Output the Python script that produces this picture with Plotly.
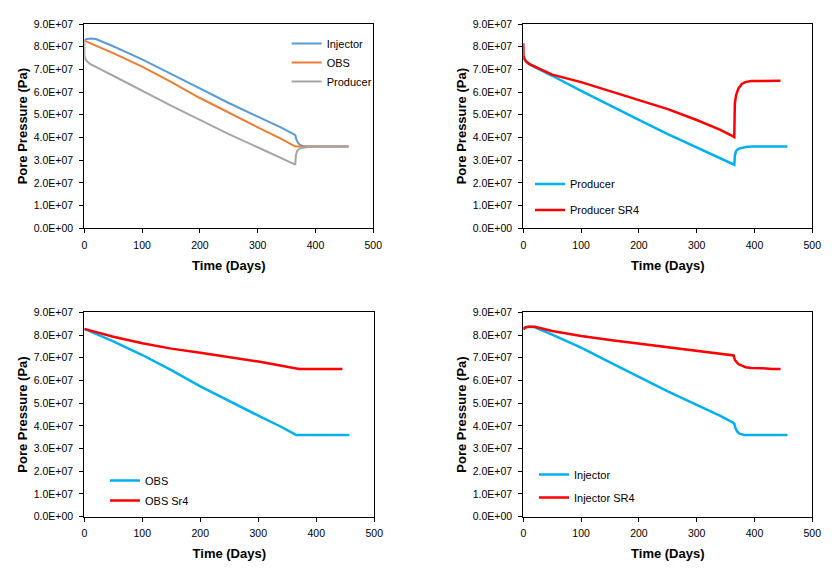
import plotly.graph_objects as go

# ---------------- data (days, Pa) ----------------
injector_days = [0, 5, 12, 20, 50, 100, 150, 200, 250, 300, 340, 362, 365, 367, 370, 374, 378, 382, 390, 457]
injector_p = [8.30e7, 8.34e7, 8.36e7, 8.34e7, 8.02e7, 7.44e7, 6.80e7, 6.15e7, 5.52e7, 4.92e7, 4.45e7, 4.15e7,
              4.10e7, 3.90e7, 3.75e7, 3.66e7, 3.62e7, 3.60e7, 3.60e7, 3.60e7]

obs_days = [0, 50, 100, 150, 200, 250, 300, 340, 360, 365, 370, 457]
obs_p = [8.27e7, 7.72e7, 7.12e7, 6.45e7, 5.74e7, 5.08e7, 4.45e7, 3.95e7, 3.66e7, 3.60e7, 3.60e7, 3.60e7]

producer_days = [0, 0.3, 2, 5, 10, 20, 30, 50, 100, 150, 200, 250, 300, 340, 364, 365, 366, 368, 372, 378, 385,
                 395, 457]
producer_p = [8.27e7, 7.58e7, 7.45e7, 7.35e7, 7.24e7, 7.10e7, 6.98e7, 6.72e7, 6.05e7, 5.40e7, 4.78e7, 4.15e7,
              3.57e7, 3.12e7, 2.82e7, 2.80e7, 3.20e7, 3.40e7, 3.50e7, 3.55e7, 3.58e7, 3.60e7, 3.60e7]

producer_sr4_days = [0, 0.3, 2, 5, 10, 20, 30, 50, 100, 150, 200, 250, 300, 340, 363, 365, 365.5, 366, 368, 372,
                     378, 385, 395, 410, 445]
producer_sr4_p = [8.15e7, 7.60e7, 7.45e7, 7.35e7, 7.24e7, 7.12e7, 7.02e7, 6.77e7, 6.44e7, 6.05e7, 5.65e7, 5.25e7,
                  4.77e7, 4.35e7, 4.05e7, 4.02e7, 4.80e7, 5.50e7, 5.85e7, 6.15e7, 6.36e7, 6.45e7, 6.49e7, 6.50e7,
                  6.50e7]

obs_sr4_days = [0, 25, 50, 100, 150, 200, 250, 300, 340, 365, 370, 445]
obs_sr4_p = [8.27e7, 8.08e7, 7.92e7, 7.64e7, 7.40e7, 7.22e7, 7.03e7, 6.83e7, 6.65e7, 6.52e7, 6.50e7, 6.50e7]

injector_sr4_days = [0, 3, 8, 20, 50, 100, 150, 200, 250, 300, 340, 364, 366, 368, 372, 378, 385, 395, 410, 420,
                     430, 445]
injector_sr4_p = [8.25e7, 8.33e7, 8.36e7, 8.36e7, 8.18e7, 7.96e7, 7.78e7, 7.62e7, 7.47e7, 7.33e7, 7.20e7, 7.10e7,
                  6.90e7, 6.82e7, 6.72e7, 6.65e7, 6.58e7, 6.55e7, 6.55e7, 6.53e7, 6.50e7, 6.50e7]

y_tickvals = [0, 1e7, 2e7, 3e7, 4e7, 5e7, 6e7, 7e7, 8e7, 9e7]
y_ticktext = ["0.0E+00", "1.0E+07", "2.0E+07", "3.0E+07", "4.0E+07", "5.0E+07", "6.0E+07", "7.0E+07",
              "8.0E+07", "9.0E+07"]
x_tickvals = [0, 100, 200, 300, 400, 500]

x_title = "Time (Days)"
y_title = "Pore Pressure (Pa)"

# ---------------- styling ----------------
FONT = "Liberation Sans, Arial, sans-serif"
C_INJ = "#5B9BD5"
C_OBS = "#ED7D31"
C_PROD = "#A5A5A5"
C_BLUE = "#00B0F0"
C_RED = "#FF0000"

W, H = 837, 574
# plot areas in pixels: (left, right, top, bottom)
boxes = [
    (84.3, 373.3, 24.0, 228.3),
    (523.3, 812.3, 24.0, 228.3),
    (84.3, 374.3, 312.3, 516.7),
    (523.3, 812.3, 312.3, 516.7),
]

fig = go.Figure()


def add(x, y, name, color, width, idx, legend, group):
    sfx = "" if idx == 1 else str(idx)
    fig.add_trace(go.Scatter(
        x=x, y=y, name=name, mode="lines",
        line=dict(color=color, width=width),
        xaxis="x" + sfx, yaxis="y" + sfx,
        legend=legend, legendgroup=group,
    ))


add(injector_days, injector_p, "Injector", C_INJ, 2, 1, "legend", "a1")
add(obs_days, obs_p, "OBS", C_OBS, 2, 1, "legend", "a2")
add(producer_days, producer_p, "Producer", C_PROD, 2, 1, "legend", "a3")

add(producer_days[1:], producer_p[1:], "Producer", C_BLUE, 2.5, 2, "legend2", "b1")
add(producer_sr4_days, producer_sr4_p, "Producer SR4", C_RED, 2.5, 2, "legend2", "b2")

add(obs_days, obs_p, "OBS", C_BLUE, 2.5, 3, "legend3", "c1")
add(obs_sr4_days, obs_sr4_p, "OBS Sr4", C_RED, 2.5, 3, "legend3", "c2")

add(injector_days, injector_p, "Injector", C_BLUE, 2.5, 4, "legend4", "d1")
add(injector_sr4_days, injector_sr4_p, "Injector SR4", C_RED, 2.5, 4, "legend4", "d2")

layout = dict(
    width=W, height=H,
    margin=dict(l=0, r=0, t=0, b=0, autoexpand=False),
    paper_bgcolor="white", plot_bgcolor="white",
    font=dict(family=FONT, size=11, color="black"),
)

for i, (l, r, t, b) in enumerate(boxes, start=1):
    sfx = "" if i == 1 else str(i)
    layout["xaxis" + sfx] = dict(
        domain=[l / W, r / W], anchor="y" + sfx, automargin=False,
        range=[0, 500], tickvals=x_tickvals, tickfont=dict(size=10.5),
        showline=True, mirror=True, linecolor="black", linewidth=1,
        ticks="outside", ticklen=4, tickcolor="black", ticklabelstandoff=3,
        showgrid=False, zeroline=False,
        title=dict(text=x_title, font=dict(size=13, weight="bold"), standoff=10),
    )
    layout["yaxis" + sfx] = dict(
        domain=[1 - b / H, 1 - t / H], anchor="x" + sfx, automargin=False,
        range=[0, 9e7], tickvals=y_tickvals, ticktext=y_ticktext, tickfont=dict(size=10.5),
        showline=True, mirror=True, linecolor="black", linewidth=1,
        ticks="outside", ticklen=4, tickcolor="black", ticklabelstandoff=4,
        showgrid=False, zeroline=False,
        title=dict(text=y_title, font=dict(size=13, weight="bold"), standoff=3),
    )

legend_common = dict(bgcolor="rgba(0,0,0,0)", borderwidth=0, xanchor="left", yanchor="top",
                     font=dict(size=11), traceorder="grouped")
layout["legend"] = dict(legend_common, x=286.7 / W, y=1 - 29 / H, tracegroupgap=0)
layout["legend2"] = dict(legend_common, x=530 / W, y=1 - 169.6 / H, tracegroupgap=7)
layout["legend3"] = dict(legend_common, x=105 / W, y=1 - 466 / H, tracegroupgap=1)
layout["legend4"] = dict(legend_common, x=534 / W, y=1 - 460 / H, tracegroupgap=4)

fig.update_layout(**layout)
fig.write_html("out.html", config={"displayModeBar": False},
               post_script="document.body.style.margin='0';")
